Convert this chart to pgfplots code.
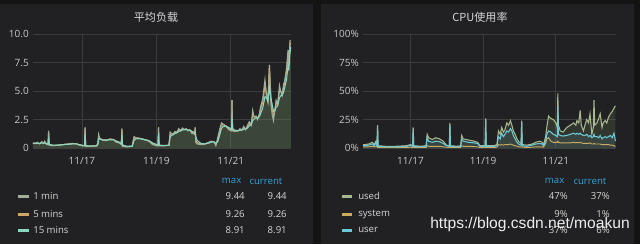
\documentclass[border=0pt]{standalone}
\usepackage{fontspec}
\setmainfont{Open Sans}
\newfontfamily\cjk{Noto Sans CJK SC}
\newfontfamily\wm{Liberation Sans}
\usepackage{pgfplots}
\pgfplotsset{compat=1.18}
\usepackage{pgfplotstable}
\definecolor{outerbg}{HTML}{141414}
\definecolor{panelbg}{HTML}{212123}
\definecolor{gridc}{HTML}{3C3C3E}
\definecolor{tickc}{HTML}{C8C8C8}
\definecolor{legc}{HTML}{D6D6D6}
\definecolor{hdrc}{HTML}{33A2D6}
\definecolor{cone}{HTML}{A3AE9A}
\definecolor{cfive}{HTML}{CFA66A}
\definecolor{cfifteen}{HTML}{8CD5C0}
\definecolor{cused}{HTML}{A8B88E}
\definecolor{csys}{HTML}{C9AC62}
\definecolor{cuser}{HTML}{6CC8D6}
\definecolor{areac}{HTML}{7A9A6A}

\pgfplotstableread{
x m1 m5 m15
15.685 0.45 0.42 0.40
15.75 0.40 0.42 0.40
15.80 0.50 0.45 0.42
15.86 0.35 0.40 0.40
15.92 0.55 0.48 0.44
15.97 0.40 0.42 0.42
16.00 0.60 0.50 0.45
16.05 0.30 0.35 0.38
16.09 0.30 0.32 0.35
16.105 1.50 1.50 1.00
16.12 0.25 0.30 0.32
16.22 0.20 0.22 0.25
16.35 0.25 0.25 0.25
16.50 0.30 0.30 0.30
16.60 0.35 0.33 0.32
16.75 0.40 0.38 0.36
16.85 0.38 0.37 0.36
16.93 0.25 0.28 0.30
17.00 0.20 0.22 0.25
17.07 0.20 0.20 0.22
17.085 1.80 1.80 1.20
17.10 0.15 0.18 0.20
17.25 0.15 0.16 0.18
17.40 0.20 0.20 0.20
17.43 0.50 0.40 0.30
17.45 1.20 1.00 0.80
17.48 0.80 0.85 0.80
17.55 0.70 0.72 0.72
17.65 0.65 0.68 0.70
17.75 0.80 0.75 0.72
17.85 0.75 0.74 0.72
17.92 0.50 0.58 0.62
18.00 0.45 0.48 0.52
18.06 0.30 0.35 0.40
18.075 1.70 1.70 1.15
18.09 0.15 0.20 0.28
18.20 0.10 0.12 0.16
18.35 0.15 0.14 0.15
18.40 1.00 0.85 0.65
18.45 0.90 0.88 0.80
18.55 0.85 0.85 0.82
18.70 0.70 0.72 0.74
18.80 0.60 0.62 0.65
18.90 0.30 0.38 0.45
19.00 0.20 0.25 0.32
19.045 0.20 0.22 0.28
19.06 1.80 1.80 1.20
19.075 0.20 0.22 0.26
19.20 0.20 0.20 0.22
19.34 0.25 0.24 0.24
19.37 1.40 1.20 0.90
19.40 1.30 1.25 1.10
19.45 1.20 1.22 1.15
19.50 1.45 1.38 1.28
19.55 1.35 1.38 1.32
19.60 1.70 1.60 1.45
19.65 1.50 1.55 1.50
19.70 1.75 1.68 1.58
19.75 1.60 1.62 1.60
19.80 1.70 1.66 1.62
19.85 1.50 1.55 1.58
19.90 1.60 1.58 1.56
19.95 1.30 1.40 1.48
20.03 1.20 1.25 1.35
20.045 1.80 1.80 1.40
20.06 0.50 0.70 1.00
20.10 0.35 0.45 0.65
20.20 0.30 0.33 0.40
20.30 0.35 0.34 0.36
20.40 0.50 0.45 0.42
20.48 0.60 0.56 0.52
20.55 0.55 0.55 0.54
20.60 0.20 0.30 0.42
20.65 0.90 0.70 0.55
20.70 1.60 1.40 1.10
20.75 2.20 2.00 1.70
20.80 2.10 2.05 1.90
20.87 1.90 1.95 1.92
20.95 1.60 1.70 1.80
21.02 1.50 1.55 1.65
21.035 4.20 4.20 2.60
21.05 1.50 1.60 1.70
21.10 1.45 1.50 1.58
21.20 1.50 1.50 1.52
21.25 1.70 1.62 1.56
21.30 1.55 1.58 1.57
21.35 1.90 1.78 1.66
21.40 1.60 1.68 1.66
21.45 2.00 1.88 1.75
21.50 2.30 2.15 1.95
21.55 2.00 2.05 2.00
21.59 3.30 2.90 2.40
21.63 2.70 2.75 2.55
21.68 2.80 2.78 2.65
21.72 2.50 2.60 2.60
21.77 3.00 2.90 2.75
21.80 3.60 3.35 3.00
21.86 4.30 4.00 3.50
21.92 6.00 5.50 4.50
21.96 4.60 4.80 4.40
22.00 4.00 4.20 4.10
22.04 7.30 7.30 5.30
22.08 3.80 4.40 4.40
22.12 2.80 3.30 3.70
22.15 2.40 2.80 3.20
22.19 3.50 3.30 3.30
22.22 4.20 3.90 3.60
22.26 3.80 3.85 3.70
22.31 5.50 5.00 4.40
22.35 4.90 4.95 4.60
22.38 4.60 4.70 4.60
22.42 5.60 5.30 4.90
22.45 5.90 5.70 5.30
22.50 7.00 6.70 6.00
22.54 8.60 8.20 7.20
22.56 6.80 7.20 7.00
22.59 9.40 9.00 8.20
22.615 9.44 9.26 8.91
}\loadtable

\pgfplotstableread{
x used sys user
15.694 3 1 2
15.75 3 1 2
15.85 3.5 1 2.5
15.95 5 1.5 3.5
16.00 3 1 2
16.05 6 1.5 4.5
16.08 3 1 2
16.095 20 1 19
16.11 2 0.5 1.5
16.30 1.5 0.5 1
16.60 1.5 0.5 1
16.90 2 0.5 1.5
17.00 3 0.7 2.2
17.06 2 0.5 1.5
17.075 18 1 17
17.09 2 0.5 1.5
17.30 1.5 0.5 1
17.43 2 0.5 1.5
17.46 12 2 9
17.50 9 1.5 6
17.60 7.5 1.5 5
17.70 9 1.5 6
17.80 8 1.5 5.5
17.90 6 1 4
17.99 2.5 0.7 2
18.07 2 0.5 1.5
18.085 22 1 21
18.10 2 0.5 1.5
18.30 1.5 0.5 1
18.38 2 0.5 1.5
18.41 11 2 8
18.45 8 1.5 6
18.60 7 1.5 5
18.75 6 1.2 4.5
18.85 5 1 4
18.91 2 0.5 1.5
19.055 2 0.5 1.5
19.07 26 1 25
19.085 2 0.5 1.5
19.30 2 0.5 1.5
19.38 3 0.7 2
19.42 15 3 10
19.47 12 2.5 8
19.51 18 3 13
19.56 14 2.5 10
19.60 16 3 12
19.65 22 3 15
19.70 20 3 14
19.75 24 3.5 17
19.79 20 3 15
19.83 15 2.5 11
19.88 12 2 8
19.93 8 1.5 5
19.99 5 1 3
20.045 4 1 2.5
20.06 24 1 23
20.075 3 0.7 2
20.20 2.5 0.5 1.5
20.35 3.5 0.7 2.5
20.45 5 1 3.5
20.56 6 1 4
20.62 5 1 3.5
20.66 3 0.7 2
20.72 10 4 6
20.75 18 8 12
20.80 28 9 15
20.86 26 6 14
20.93 25 5 12
21.00 22 5 11
21.04 18 5 10
21.055 48 6 37
21.07 20 5 12
21.12 15 4.5 11
21.20 14 4.5 10.5
21.30 18 4.5 11
21.40 20 4.5 12
21.49 22 5 13
21.55 20 4.5 12
21.58 24 5 13
21.63 22 4.5 12
21.67 33 5 13
21.70 20 4.5 12
21.76 15 4 11
21.80 20 4 11
21.85 25 4 12
21.90 22 4 10
21.94 30 4.5 11
21.99 12 3.5 9
22.03 18 3.5 10
22.05 42 4 12
22.07 20 3.5 10
22.13 22 3.5 10
22.18 26 3.5 9
22.22 30 3.5 11
22.27 18 3 8
22.30 22 3 9
22.36 24 3 10
22.40 22 3 9
22.45 27 3 10
22.50 30 2.5 11
22.55 32 2.5 9
22.60 35 2 13
22.64 37 1 6
}\cputable

\pgfplotsset{grafana/.style={
  scale only axis, anchor=south west,
  axis line style={draw=none}, tick style={draw=none},
  grid=major, grid style={draw=gridc, line width=0.6pt},
  ticklabel style={font=\fontsize{7.5}{8}\selectfont, text=tickc},
  /pgf/number format/assume math mode=true,
  yticklabel style={anchor=east, inner sep=0pt, xshift=-3pt},
  xticklabel style={anchor=north, inner sep=0pt, yshift=-7pt},
  xtick={17,19,21}, xticklabels={11/17,11/19,11/21},
  axis on top=false, clip=true,
}}

\begin{document}
\begin{tikzpicture}[x=0.75pt,y=0.75pt]
\useasboundingbox (0,0) rectangle (640,244);
\fill[outerbg] (0,0) rectangle (640,244);
\fill[panelbg] (0,0) rectangle (313,240);
\fill[panelbg] (321,0) rectangle (634,240);

\node[text=legc, font=\cjk\fontsize{8.3}{9}\selectfont] at (156,227) {平均负载};
\node[text=legc, font=\cjk\fontsize{8.3}{9}\selectfont] at (480,227) {CPU使用率};

\begin{axis}[grafana, at={(24.75pt,72pt)}, width=193.5pt, height=85.5pt,
  xmin=15.685, xmax=22.62, ymin=0, ymax=10,
  ytick={0,2.5,5,7.5,10}, yticklabels={0,2.5,5.0,7.5,10.0}]
\addplot[draw=none, fill=areac, fill opacity=0.3] table[x=x,y=m1]{\loadtable} \closedcycle;
\addplot[cfive, line width=0.8pt] table[x=x,y=m5]{\loadtable};
\addplot[cone, line width=0.8pt] table[x=x,y=m1]{\loadtable};
\addplot[cfifteen, line width=0.8pt] table[x=x,y=m15]{\loadtable};
\end{axis}

\begin{axis}[grafana, at={(272.25pt,72pt)}, width=189.75pt, height=85.5pt,
  xmin=15.694, xmax=22.655, ymin=0, ymax=100,
  ytick={0,25,50,75,100}, yticklabels={0\%,25\%,50\%,75\%,100\%}]
\addplot[draw=none, fill=areac, fill opacity=0.18] table[x=x,y=used]{\cputable} \closedcycle;
\addplot[draw=none, fill=cuser, fill opacity=0.10] table[x=x,y=user]{\cputable} \closedcycle;
\addplot[cused, line width=0.8pt] table[x=x,y=used]{\cputable};
\addplot[csys, line width=0.7pt] table[x=x,y=sys]{\cputable};
\addplot[cuser, line width=0.8pt] table[x=x,y=user]{\cputable};
\end{axis}

% legends (left)
\begin{scope}[font=\fontsize{7.2}{8}\selectfont]
\node[anchor=east, text=hdrc] at (246,63) {max};
\node[anchor=east, text=hdrc] at (287,63) {current};
\fill[cone] (18,46.5) rectangle (29,49.5);
\fill[cfive] (18,28.5) rectangle (29,31.5);
\fill[cfifteen] (18,12.5) rectangle (29,15.5);
\node[anchor=west, text=legc, inner sep=0pt] at (33,48) {1 min};
\node[anchor=west, text=legc, inner sep=0pt] at (33,30) {5 mins};
\node[anchor=west, text=legc, inner sep=0pt] at (33,14) {15 mins};
\node[anchor=east, text=legc, inner sep=0pt] at (245,48) {9.44};
\node[anchor=east, text=legc, inner sep=0pt] at (245,30) {9.26};
\node[anchor=east, text=legc, inner sep=0pt] at (245,14) {8.91};
\node[anchor=east, text=legc, inner sep=0pt] at (287,48) {9.44};
\node[anchor=east, text=legc, inner sep=0pt] at (287,30) {9.26};
\node[anchor=east, text=legc, inner sep=0pt] at (287,14) {8.91};
% right
\node[anchor=east, text=hdrc] at (569,63) {max};
\node[anchor=east, text=hdrc] at (611,63) {current};
\fill[cused] (342,46.5) rectangle (352,49.5);
\fill[csys] (342,28.5) rectangle (352,31.5);
\fill[cuser] (342,12.5) rectangle (352,15.5);
\node[anchor=west, text=legc, inner sep=0pt] at (358,48) {used};
\node[anchor=west, text=legc, inner sep=0pt] at (358,30) {system};
\node[anchor=west, text=legc, inner sep=0pt] at (358,14) {user};
\node[anchor=east, text=legc, inner sep=0pt] at (568,48) {47\%};
\node[anchor=east, text=legc, inner sep=0pt] at (568,30) {9\%};
\node[anchor=east, text=legc, inner sep=0pt] at (568,14) {37\%};
\node[anchor=east, text=legc, inner sep=0pt] at (610,48) {37\%};
\node[anchor=east, text=legc, inner sep=0pt] at (610,30) {1\%};
\node[anchor=east, text=legc, inner sep=0pt] at (610,14) {6\%};
\end{scope}
\node[anchor=west, inner sep=0pt, text=white, text opacity=0.92, font=\wm\fontsize{11.7}{13}\selectfont] at (430,20) {https://blog.csdn.net/moakun};
\end{tikzpicture}
\end{document}
